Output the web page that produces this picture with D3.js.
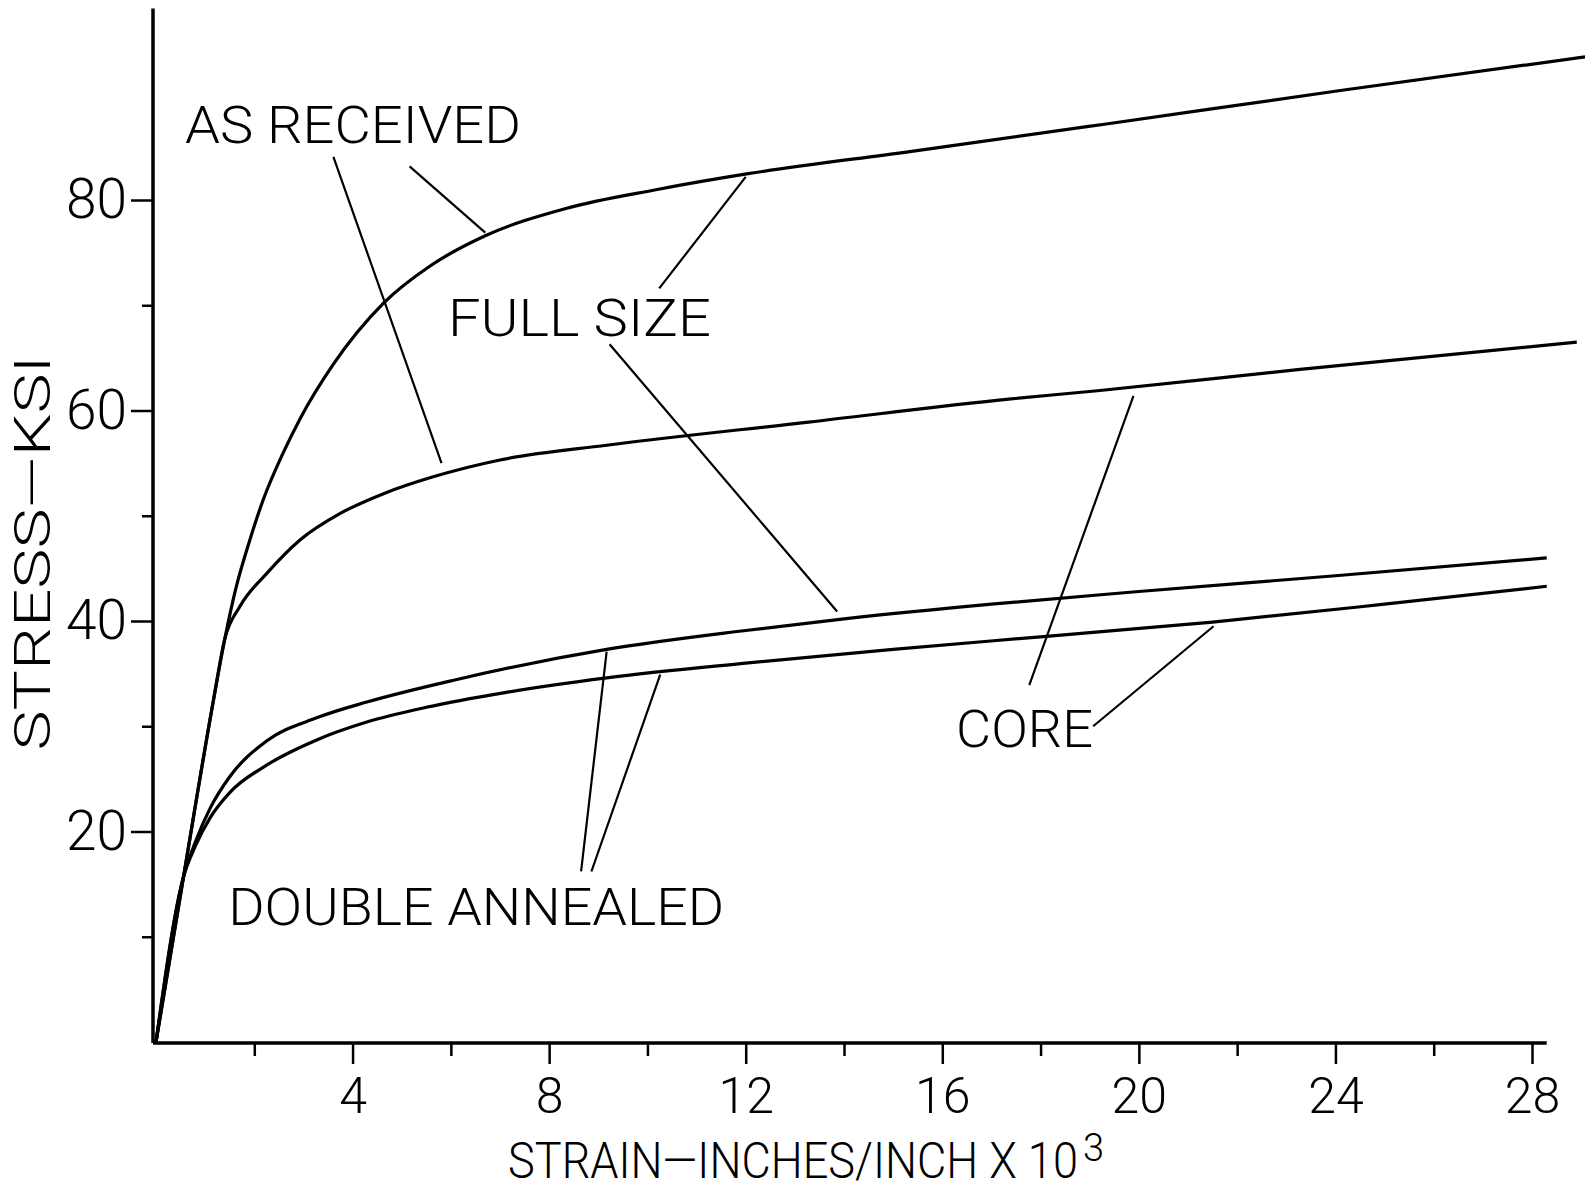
<!DOCTYPE html>
<html>
<head>
<meta charset="utf-8">
<script src="https://cdn.jsdelivr.net/npm/d3@7"></script>
<style>
  body { margin: 0; background: #fff; }
  text { font-family: Roboto, "DejaVu Sans", sans-serif; font-weight: 300; fill: #000; }
</style>
</head>
<body>
<div id="chart"></div>
<script>
// strain in inches/inch x 10^3, stress in ksi
var asRecFullStrain = [0, 0.56, 1.17, 1.40, 1.62, 1.91, 2.18, 2.59, 2.93, 3.61, 4.63, 5.6, 6.7, 8.34, 10.2, 12.05, 15.34, 19.3, 24.1, 29.08];
var asRecFullStress = [0, 15.7, 32.5, 38.3, 43.0, 47.7, 51.5, 56.0, 59.2, 64.4, 70.2, 73.8, 76.6, 79.2, 81.0, 82.5, 84.6, 87.2, 90.4, 93.6];

var asRecCoreStrain = [0, 0.56, 1.17, 1.40, 1.71, 2.25, 2.93, 3.74, 4.63, 5.64, 7.0, 9.17, 13.28, 17.4, 19.21, 23.28, 28.91];
var asRecCoreStress = [0, 15.7, 32.5, 38.3, 41.4, 44.5, 47.7, 50.2, 52.1, 53.7, 55.3, 56.7, 58.9, 61.1, 61.9, 63.9, 66.5];

var annFullStrain = [0, 0.56, 0.8, 1.1, 1.5, 2.25, 3.27, 4.29, 6.08, 9.17, 12, 14, 17, 20, 24, 28.3];
var annFullStress = [0, 15.7, 19.0, 22.2, 25.2, 28.6, 30.8, 32.3, 34.4, 37.3, 39.1, 40.2, 41.6, 42.8, 44.3, 46.0];

var annCoreStrain = [0, 0.56, 0.8, 1.1, 1.5, 2.25, 3.27, 4.29, 5.5, 7.1, 9.17, 12, 15, 18, 21.5, 25, 28.3];
var annCoreStress = [0, 15.7, 18.6, 21.3, 23.7, 26.3, 28.7, 30.4, 31.8, 33.2, 34.6, 36.0, 37.3, 38.5, 39.9, 41.6, 43.3];

var xMajorTicks = [4, 8, 12, 16, 20, 24, 28];
var xMinorTicks = [2, 6, 10, 14, 18, 22, 26];
var yMajorTicks = [20, 40, 60, 80];
var yMinorTicks = [10, 30, 50, 70];

// curve labels: text, strain, stress at the left end of the baseline
var labelText = ["AS RECEIVED", "FULL SIZE", "CORE", "DOUBLE ANNEALED"];
var labelAt = [[0.59, 85.4], [5.94, 67.1], [16.28, 28.0], [1.47, 11.1]];
var labelLen = [336, 263, 137, 496];

// leader lines from the labels to the curves [strain1, stress1, strain2, stress2]
var leaders = [
  [3.61, 84.1, 5.81, 55.0],
  [5.16, 83.2, 6.70, 76.9],
  [10.24, 71.6, 12.0, 82.2],
  [9.23, 66.3, 13.86, 40.9],
  [17.77, 33.9, 19.89, 61.4],
  [19.07, 30.0, 21.52, 39.5],
  [8.65, 16.2, 9.17, 37.1],
  [8.86, 16.2, 10.26, 34.9]
];

var width = 1585, height = 1192;

var svg = d3.select("#chart").append("svg")
  .attr("width", width)
  .attr("height", height)
  .style("background", "#fff");

var x = d3.scaleLinear().domain([0, 28]).range([156, 1532]);
var y = d3.scaleLinear().domain([0, 80]).range([1042, 200]);

// axis lines, a bit past the last tick like the plot
svg.append("line")
  .attr("x1", x(0) - 3).attr("x2", x(0) - 3)
  .attr("y1", y(0) + 1).attr("y2", y(98.2))
  .attr("stroke", "#000").attr("stroke-width", 3.5);

svg.append("line")
  .attr("x1", x(0) - 3).attr("x2", x(28.3))
  .attr("y1", y(0) + 1).attr("y2", y(0) + 1)
  .attr("stroke", "#000").attr("stroke-width", 3.5);

// x ticks
var xAxis = svg.append("g")
  .attr("transform", "translate(0," + (y(0) + 1) + ")")
  .call(d3.axisBottom(x).tickValues(xMajorTicks).tickSize(21).tickPadding(13));
xAxis.select(".domain").remove();
xAxis.selectAll("line").attr("stroke-width", 2.5);
xAxis.selectAll("text").attr("font-size", 50).attr("fill", "#000").attr("font-family", null);

var xMinor = svg.append("g")
  .attr("transform", "translate(0," + (y(0) + 1) + ")")
  .call(d3.axisBottom(x).tickValues(xMinorTicks).tickSize(13).tickFormat(""));
xMinor.select(".domain").remove();
xMinor.selectAll("line").attr("stroke-width", 2.5);

// y ticks
var yAxis = svg.append("g")
  .attr("transform", "translate(" + (x(0) - 3) + ",0)")
  .call(d3.axisLeft(y).tickValues(yMajorTicks).tickSize(22).tickPadding(4));
yAxis.select(".domain").remove();
yAxis.selectAll("line").attr("stroke-width", 2.5);
yAxis.selectAll("text").attr("font-size", 55).attr("fill", "#000").attr("font-family", null);

var yMinor = svg.append("g")
  .attr("transform", "translate(" + (x(0) - 3) + ",0)")
  .call(d3.axisLeft(y).tickValues(yMinorTicks).tickSize(11).tickFormat(""));
yMinor.select(".domain").remove();
yMinor.selectAll("line").attr("stroke-width", 2.5);

// curves
var line = d3.line()
  .x(function (d) { return x(d[0]); })
  .y(function (d) { return y(d[1]); })
  .curve(d3.curveMonotoneX);

var curves = [
  d3.zip(asRecFullStrain, asRecFullStress),
  d3.zip(asRecCoreStrain, asRecCoreStress),
  d3.zip(annFullStrain, annFullStress),
  d3.zip(annCoreStrain, annCoreStress)
];

svg.selectAll("path.curve")
  .data(curves)
  .enter()
  .append("path")
  .attr("class", "curve")
  .attr("d", line)
  .attr("fill", "none")
  .attr("stroke", "#000")
  .attr("stroke-width", 3.2)
  .attr("stroke-linejoin", "round");

// leaders
svg.selectAll("line.leader")
  .data(leaders)
  .enter()
  .append("line")
  .attr("class", "leader")
  .attr("x1", function (d) { return x(d[0]); })
  .attr("y1", function (d) { return y(d[1]); })
  .attr("x2", function (d) { return x(d[2]); })
  .attr("y2", function (d) { return y(d[3]); })
  .attr("stroke", "#000")
  .attr("stroke-width", 2.2);

// curve labels
svg.selectAll("text.label")
  .data(labelText)
  .enter()
  .append("text")
  .attr("class", "label")
  .attr("x", function (d, i) { return x(labelAt[i][0]); })
  .attr("y", function (d, i) { return y(labelAt[i][1]); })
  .attr("font-size", 52)
  .attr("textLength", function (d, i) { return labelLen[i]; })
  .attr("lengthAdjust", "spacingAndGlyphs")
  .text(function (d) { return d; });

// axis titles - x title squeezed with a scale so its box matches what is drawn
var xTitle = svg.append("text")
  .attr("font-size", 50)
  .text("STRAIN\u2014INCHES/INCH  X 10");
var natural = xTitle.node().getComputedTextLength();
xTitle.attr("transform", "translate(508,1178) scale(" + (570 / natural) + ",1)");

svg.append("text")
  .attr("x", 1083)
  .attr("y", 1161)
  .attr("font-size", 38)
  .text("3");

svg.append("text")
  .attr("transform", "translate(50,553) rotate(-90)")
  .attr("text-anchor", "middle")
  .attr("font-size", 50)
  .attr("textLength", 395)
  .attr("lengthAdjust", "spacingAndGlyphs")
  .text("STRESS\u2014KSI");
</script>
</body>
</html>
